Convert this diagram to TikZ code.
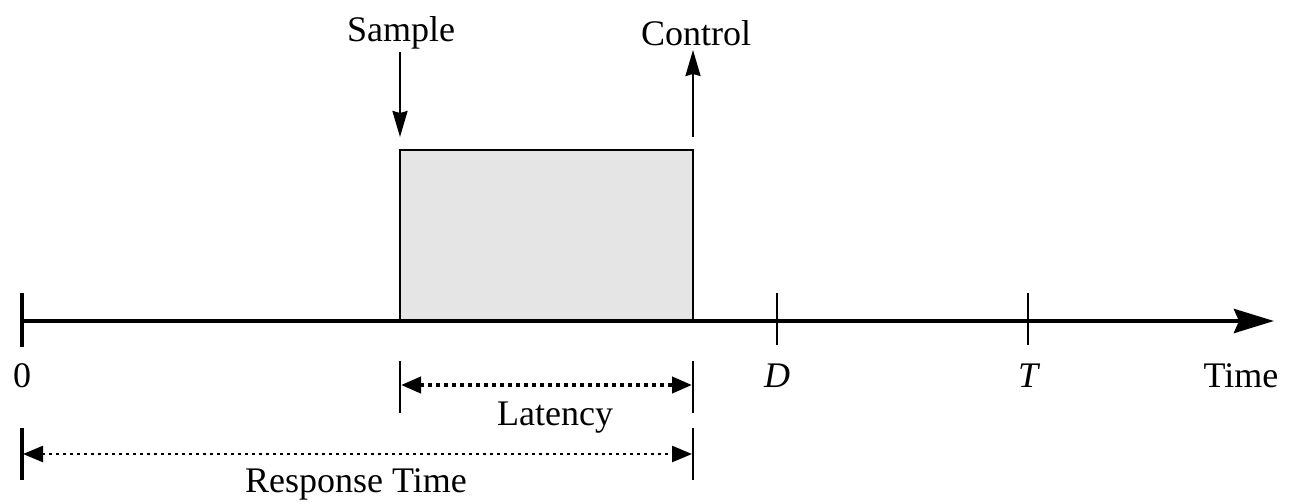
\documentclass[tikz,border=0pt]{standalone}
\usepackage{fontspec}
\setmainfont{Liberation Serif}
\usetikzlibrary{arrows.meta}
\begin{document}
\begin{tikzpicture}[x=1pt,y=-1pt,
  lbl/.style={font=\fontsize{36}{42}\selectfont, inner sep=0pt},
  tick/.style={line width=2.2pt},
  thicktick/.style={line width=4pt},
  axis/.style={line width=4.5pt, -{Stealth[length=40pt,width=24pt,inset=5pt]}},
  evt/.style={line width=2.2pt, -{Stealth[length=26pt,width=15pt,inset=2pt]}},
  tipdim/.style={Triangle[length=20pt,width=16pt]},
  dim/.style={line width=4pt, dash pattern=on 4pt off 4pt, {Triangle[length=20pt,width=16pt]}-{Triangle[length=20pt,width=16pt]}},
  dimthin/.style={line width=2.5pt, dash pattern=on 3pt off 4pt, {Triangle[length=20pt,width=16pt]}-{Triangle[length=20pt,width=16pt]}},
  task/.style={draw, line width=2.2pt, fill=black!10}]
\useasboundingbox (0,0) rectangle (1289,503);
% task box
\draw[task] (400,321) rectangle (693,150);
% axis
\coordinate (o) at (22,321);
\coordinate (tend) at (1274,321);
\draw[axis] (o) -- (tend);
\draw[thicktick] (22,293) -- (22,347);
\draw[tick] (777,293) -- (777,345);
\draw[tick] (1028,293) -- (1028,345);
% labels on axis
\node[lbl] (l0) at (22,376) {0};
\node[lbl] (lD) at (777,376) {\itshape D};
\node[lbl] (lT) at (1028,376) {\itshape T};
\node[lbl] (lTime) at (1241,376) {Time};
% sample / control
\node[lbl] (sample) at (401,33) {Sample};
\node[lbl] (control) at (696,33) {Control};
\coordinate (sin) at (400,137);
\coordinate (cout) at (693,50);
\draw[evt] (400,52) -- (sin);
\draw[evt] (693,137) -- (cout);
% latency
\draw[tick] (400,361) -- (400,413);
\draw[tick] (693,361) -- (693,413);
\coordinate (la) at (401,385);
\coordinate (lb) at (692,385);
\draw[dim] (la) -- (lb);
\node[lbl] (latency) at (555,418) {Latency};
% response time
\draw[thicktick] (22,428) -- (22,480);
\draw[tick] (693,428) -- (693,480);
\coordinate (ra) at (23,454);
\coordinate (rb) at (692,454);
\draw[dimthin] (ra) -- (rb);
\node[lbl] (resp) at (356,484) {Response Time};
\end{tikzpicture}
\end{document}
